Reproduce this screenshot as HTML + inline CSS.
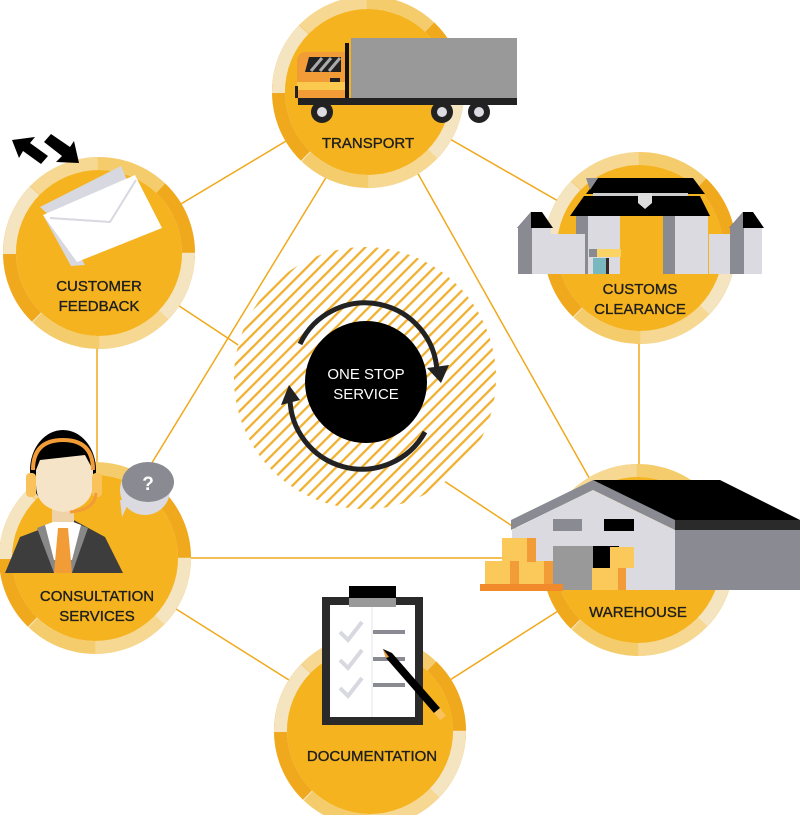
<!DOCTYPE html>
<html><head><meta charset="utf-8"><style>
html,body{margin:0;padding:0;background:#fff;width:800px;height:815px;overflow:hidden;}
svg{display:block;}
text{font-family:"Liberation Sans",sans-serif;font-size:15px;fill:#1e1e1e;stroke:#1e1e1e;stroke-width:0.35px;text-anchor:middle;}
</style></head><body>
<svg width="800" height="815" viewBox="0 0 800 815" xmlns="http://www.w3.org/2000/svg">
<defs>
<pattern id="hatch" width="9" height="9" patternUnits="userSpaceOnUse" patternTransform="rotate(-45)">
<rect x="0" y="0" width="9" height="2.3" fill="#f0b030"/>
</pattern>
<g id="ring">
<circle r="89.5" fill="none" stroke="#f4cc6c" stroke-width="13"/>
<circle r="89.5" fill="none" stroke="#f5e4c0" stroke-width="13" stroke-dasharray="70 210" transform="rotate(135)"/>
<circle r="89.5" fill="none" stroke="#f0a81c" stroke-width="13" stroke-dasharray="70 210" transform="rotate(180)"/>
<circle r="89.5" fill="none" stroke="#f5e4c0" stroke-width="13" stroke-dasharray="70 210" transform="rotate(0)"/>
<circle r="89.5" fill="none" stroke="#f0a81c" stroke-width="13" stroke-dasharray="70 210" transform="rotate(-45)"/>
<circle r="89.5" fill="none" stroke="#f6d892" stroke-width="13" stroke-dasharray="70 210" transform="rotate(45)"/>
<circle r="83" fill="#f4b31f"/>
</g>
</defs>

<g stroke="#f0a91c" stroke-width="1.5" fill="none">
<line x1="368" y1="92" x2="99" y2="253"/>
<line x1="368" y1="92" x2="640" y2="248"/>
<line x1="639" y1="248" x2="639" y2="560"/>
<line x1="638" y1="560" x2="370" y2="731"/>
<line x1="370" y1="731" x2="95" y2="558"/>
<line x1="97" y1="253" x2="97" y2="558"/>
<line x1="372" y1="92" x2="596" y2="490"/>
<line x1="355" y1="130" x2="100" y2="548"/>
<line x1="95" y1="558" x2="638" y2="558"/>
<line x1="99" y1="253" x2="600" y2="584"/>
</g>

<circle cx="365" cy="378" r="131" fill="#fff"/>
<circle cx="365" cy="378" r="131" fill="url(#hatch)"/>
<circle cx="366" cy="382" r="61" fill="#000"/>
<text x="366" y="379" style="fill:#fff;stroke:none;font-size:15px">ONE STOP</text>
<text x="366" y="399" style="fill:#fff;stroke:none;font-size:15px">SERVICE</text>
<path d="M300 344 A72 72 0 0 1 437 372" fill="none" stroke="#222" stroke-width="5"/>
<polygon points="427,368 449,365 441,383" fill="#222"/>
<path d="M425 432 A72 72 0 0 1 290 396" fill="none" stroke="#222" stroke-width="5"/>
<polygon points="281,405 289,385 300,400" fill="#222"/>

<use href="#ring" x="368" y="92"/>
<use href="#ring" x="99" y="253"/>
<use href="#ring" x="640" y="248"/>
<use href="#ring" x="638" y="560"/>
<use href="#ring" x="95" y="558"/>
<use href="#ring" x="370" y="731"/>

<!-- transport -->
<rect x="351" y="38" width="166" height="62" fill="#999"/>
<rect x="345" y="43" width="4" height="58" fill="#111"/>
<path d="M297 100 V62 Q297 52 307 52 H345 V100 Z" fill="#f29c38"/>
<rect x="297" y="82" width="48" height="8" fill="#fbc94d"/>
<polygon points="309,57 341,57 341,72 305,72" fill="#222"/>
<g stroke="#aaa" stroke-width="3"><line x1="311" y1="71" x2="322" y2="58"/><line x1="320" y1="71" x2="331" y2="58"/><line x1="329" y1="71" x2="340" y2="58"/></g>
<rect x="330" y="78" width="10" height="4" fill="#222"/>
<rect x="298" y="98" width="219" height="7" fill="#222"/>
<rect x="295" y="86" width="3" height="12" fill="#222"/>
<g fill="#222"><circle cx="322" cy="112" r="11"/><circle cx="442" cy="112" r="11"/><circle cx="479" cy="112" r="11"/></g>
<g fill="#dcdce2"><circle cx="322" cy="112" r="5"/><circle cx="442" cy="112" r="5"/><circle cx="479" cy="112" r="5"/></g>
<text x="368" y="148">TRANSPORT</text>

<!-- feedback -->
<polygon points="12,140 35,137 30,143 48,156 41,164 23,151 19,158" fill="#000"/>
<polygon points="44,142 51,134 70,147 74,141 79,163 56,162 62,156" fill="#000"/>
<polygon points="40,207 121,166 127,180 52,218" fill="#d8d8e0"/>
<polygon points="43,215 55,213 85,265 71,266" fill="#d8d8e0"/>
<polygon points="43,215 135,175 162,228 77,262" fill="#fff"/>
<polyline points="50,218 110,222 136,180" fill="none" stroke="#d8d8e0" stroke-width="2"/>
<text x="99" y="291">CUSTOMER</text>
<text x="99" y="311">FEEDBACK</text>

<!-- customs -->
<polygon points="598,178 693,178 705,194 586,194" fill="#000"/>
<polygon points="586,178 598,178 590,190" fill="#8a8a92"/>
<polygon points="584,196 700,196 710,216 570,216" fill="#000"/>
<rect x="593" y="193" width="95" height="3" fill="#ccc"/>
<polygon points="638,193 652,193 652,203 645,209 638,203" fill="#ddd"/>
<rect x="576" y="216" width="44" height="58" fill="#dadae0"/>
<rect x="576" y="216" width="12" height="58" fill="#8a8a92"/>
<rect x="663" y="216" width="45" height="58" fill="#dadae0"/>
<rect x="663" y="216" width="12" height="58" fill="#8a8a92"/>
<rect x="551" y="234" width="34" height="40" fill="#dadae0"/>
<rect x="709" y="234" width="34" height="40" fill="#dadae0"/>
<rect x="518" y="228" width="33" height="46" fill="#dadae0"/>
<rect x="518" y="228" width="14" height="46" fill="#8a8a92"/>
<polygon points="517,228 531,212 542,212 553,228" fill="#000"/>
<polygon points="517,228 531,212 531,228" fill="#8a8a92"/>
<rect x="732" y="228" width="30" height="46" fill="#dadae0"/>
<rect x="730" y="228" width="14" height="46" fill="#8a8a92"/>
<polygon points="729,228 743,212 753,212 764,228" fill="#000"/>
<polygon points="729,228 743,212 743,228" fill="#8a8a92"/>
<rect x="589" y="249" width="32" height="8" fill="#fbd465"/>
<rect x="589" y="249" width="8" height="8" fill="#8a8a92"/>
<rect x="593" y="258" width="14" height="16" fill="#7ab8c0"/>
<rect x="606" y="258" width="3" height="16" fill="#3a2a2a"/>
<text x="640" y="294">CUSTOMS</text>
<text x="640" y="314">CLEARANCE</text>

<!-- warehouse -->
<polygon points="593,480 720,480 800,520 800,530 675,530" fill="#000"/>
<rect x="675" y="520" width="125" height="10" fill="#2a2a2a"/>
<rect x="675" y="530" width="125" height="60" fill="#8a8a92"/>
<polygon points="511,520 593,480 675,520 675,530 593,490 511,530" fill="#8a8a92"/>
<polygon points="512,530 593,490 675,530 675,590 512,590" fill="#dadae0"/>
<rect x="553" y="519" width="29" height="12" fill="#8a8a92"/>
<rect x="604" y="519" width="30" height="12" fill="#000"/>
<rect x="553" y="546" width="40" height="44" fill="#999"/>
<rect x="593" y="546" width="26" height="30" fill="#000"/>
<g fill="#fbc95a">
<rect x="502" y="538" width="34" height="24"/><rect x="485" y="561" width="34" height="24"/><rect x="519" y="561" width="34" height="24"/>
<rect x="610" y="547" width="24" height="21"/><rect x="592" y="568" width="34" height="22"/>
</g>
<g fill="#f29c38"><rect x="527" y="538" width="9" height="24"/><rect x="510" y="561" width="9" height="24"/><rect x="544" y="561" width="9" height="24"/><rect x="618" y="568" width="8" height="22"/></g>
<rect x="480" y="584" width="83" height="7" fill="#f08a2a"/>
<text x="638" y="617">WAREHOUSE</text>

<!-- consultation -->
<circle cx="145" cy="490" r="25" fill="#dadae0"/>
<polygon points="120,500 130,500 122,517" fill="#dadae0"/>
<ellipse cx="148" cy="482" rx="26" ry="20" fill="#8a8a92"/>
<text x="148" y="490" style="fill:#fff;stroke:none;font-size:19px;font-weight:bold">?</text>
<polygon points="5,573 20,537 70,518 105,537 123,573" fill="#3d3d3d"/>
<polygon points="37,528 63,518 88,528 72,573 54,573" fill="#888"/>
<polygon points="45,525 63,518 81,525 72,560 54,560" fill="#fff"/>
<polygon points="58,528 68,528 72,573 54,573" fill="#f29c38"/>
<rect x="52" y="500" width="22" height="22" fill="#f0d2a8"/>
<ellipse cx="63" cy="470" rx="33" ry="40" fill="#000"/>
<path d="M40 460 L85 455 L93 470 L93 485 Q92 508 63 512 Q36 508 36 485 L36 470 Z" fill="#f5e4c8"/>
<path d="M33 470 Q33 440 63 440 Q93 440 93 470" fill="none" stroke="#f29c38" stroke-width="4"/>
<rect x="26" y="473" width="10" height="24" rx="4" fill="#f9c25a"/>
<rect x="92" y="473" width="10" height="24" rx="4" fill="#f9c25a"/>
<path d="M96 493 Q95 510 70 512" fill="none" stroke="#f29c38" stroke-width="3"/>
<text x="97" y="601">CONSULTATION</text>
<text x="97" y="621">SERVICES</text>

<!-- documentation -->
<rect x="322" y="597" width="101" height="128" fill="#2a2a2a"/>
<rect x="330" y="605" width="85" height="112" fill="#fff"/>
<line x1="372" y1="605" x2="372" y2="717" stroke="#e6e6ea" stroke-width="1"/>
<rect x="349" y="586" width="47" height="12" fill="#000"/>
<rect x="349" y="598" width="47" height="9" fill="#999"/>
<g fill="none" stroke="#d8d8e0" stroke-width="4"><polyline points="340,632 348,640 362,622"/><polyline points="340,660 348,668 362,650"/><polyline points="340,688 348,696 362,678"/></g>
<g fill="#8a8a92"><rect x="373" y="630" width="32" height="4"/><rect x="373" y="657" width="32" height="4"/><rect x="373" y="683" width="32" height="4"/></g>
<polygon points="383,649 392,653 440,708 434,713 386,658" fill="#000"/>
<polygon points="383,649 389,657 386,658" fill="#f29c38"/>
<polygon points="434,713 440,708 446,716 440,720" fill="#f9c25a"/>
<text x="372" y="761">DOCUMENTATION</text>
</svg>
</body></html>
